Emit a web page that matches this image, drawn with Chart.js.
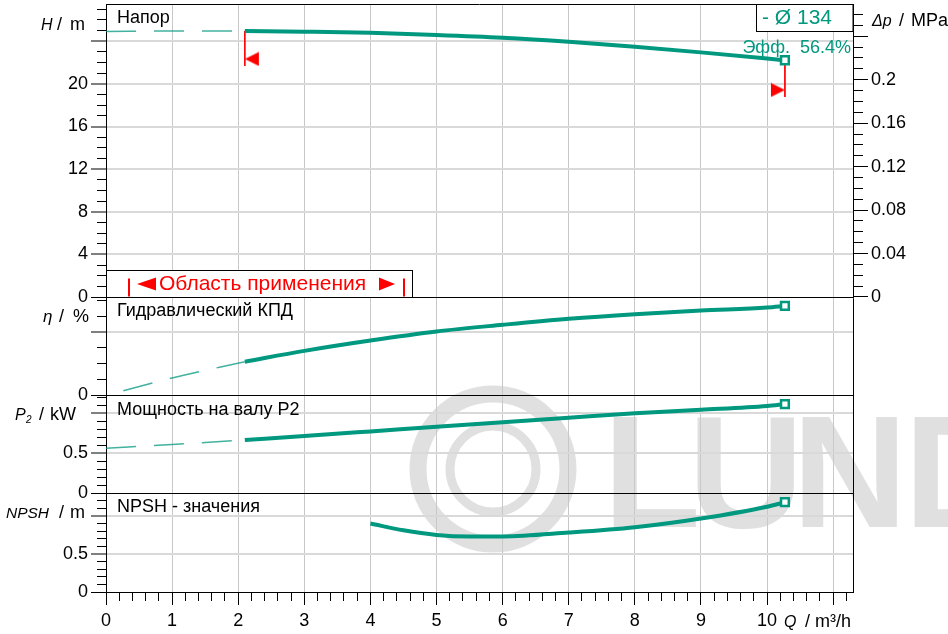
<!DOCTYPE html>
<html>
<head>
<meta charset="utf-8">
<script src="https://cdn.jsdelivr.net/npm/chart.js@4.4.1/dist/chart.umd.min.js"></script>
<style>
  html, body { margin: 0; padding: 0; background: #fff; }
  canvas { display: block; }
</style>
</head>
<body>
<canvas id="pump" width="948" height="634"></canvas>
<script>
// flow, m3/h
const flowMax = 11.3;
const flowLabels = [0, 1, 2, 3, 4, 5, 6, 7, 8, 9, 10];

// head, m (dashed part is outside the working range)
const headMax = 27.5;
const headDashQ = [0, 1, 2.1];
const headDash = [24.93, 24.97, 24.97];
const headQ = [2.1, 3, 4, 5, 6, 7, 8, 9, 10, 10.27];
const head = [24.97, 24.9, 24.79, 24.59, 24.33, 23.95, 23.48, 22.96, 22.39, 22.22];
const headMajor = [0, 4, 8, 12, 16, 20, 24];
const headLabels = [0, 4, 8, 12, 16, 20];

// pressure axis, MPa
const dpMajor = [0, 0.04, 0.08, 0.12, 0.16, 0.2, 0.24];
const dpLabels = [0, 0.04, 0.08, 0.12, 0.16, 0.2];

// hydraulic efficiency, %
const effMax = 62;
const effDashQ = [0, 1, 2.1];
const effDash = [0, 11, 21.3];
const effQ = [2.1, 3, 4, 5, 6, 7, 8, 9, 10, 10.27];
const eff = [21.3, 28.1, 34.6, 40.3, 44.5, 48.3, 51.2, 53.5, 55.4, 56.4];
const effMajor = [0, 40];
const effLabels = [0];

// shaft power P2, kW
const powMax = 1.219;
const powDashQ = [0, 1, 2.1];
const powDash = [0.56, 0.607, 0.663];
const powQ = [2.1, 3, 4, 5, 6, 7, 8, 9, 10, 10.27];
const pow = [0.663, 0.712, 0.77, 0.829, 0.884, 0.941, 0.996, 1.04, 1.088, 1.11];
const powMajor = [0, 0.5, 1];
const powLabels = [0, 0.5];

// NPSH, m
const npshMax = 1.3;
const npshQ = [4, 4.5, 5, 5.5, 6, 7, 8, 9, 10, 10.27];
const npsh = [0.9, 0.81, 0.75, 0.73, 0.73, 0.78, 0.85, 0.965, 1.12, 1.18];
const npshMajor = [0, 0.5, 1];
const npshLabels = [0, 0.5];

// limits of the working range on the head curve
const limitQ = [2.1, 10.27];
const limitTop = [24.97, 22.22];
const limitBottom = [21.68, 18.77];
const limitMark = [22.34, 19.43];
const appRangeQ = [0.35, 4.51];

const curveName = '- Ø 134';
const effText = 'Эфф.  56.4%';

const FONT = '"Liberation Sans", Arial, sans-serif';
const TEAL = '#00987f';
const TEAL_DASH = 'rgba(0,152,127,0.75)';
const CLEAR = 'rgba(0,0,0,0)';
const MPA_PER_M = 0.00980665;
const panelPx = [293, 98.5, 97.5, 99];

Chart.defaults.font.family = FONT;
Chart.defaults.font.size = 18;
Chart.defaults.color = '#000';

const pts = (xs, ys) => xs.map((x, i) => ({ x, y: ys[i] }));
const has = (arr, v) => arr.some(a => Math.abs(a - v) < 1e-6);
function steps(max, step) {
  const out = [];
  for (let i = 0; i * step < max - 1e-6; i++) out.push(+(i * step).toFixed(4));
  return out;
}

function leftAxis(max, step, major, labels, weight, order) {
  return {
    type: 'linear', position: 'left', stack: 'panels', stackWeight: weight, weight: order,
    min: 0, max: max,
    afterBuildTicks: s => { s.ticks = steps(max, step).map(v => ({ value: v })); },
    afterFit: s => { s.width = 106; s.paddingTop = 0; s.paddingBottom = 0; },
    border: { color: '#000', width: 1 },
    grid: {
      color: c => c.tick.value === 0 ? '#000' : has(major, c.tick.value) ? '#d9d9d9' : CLEAR,
      lineWidth: c => (c.tick.value !== 0 && has(major, c.tick.value)) ? 2 : 1,
      tickColor: '#000', tickWidth: 1, tickLength: 15,
      tickBorderDash: c => has(major, c.tick.value) ? [] : [9, 60],
      tickBorderDashOffset: c => has(major, c.tick.value) ? 0 : 63
    },
    ticks: { autoSkip: false, padding: 3, callback: v => has(labels, v) ? String(v) : '' }
  };
}

const dpMax = headMax * MPA_PER_M;
const dpMin = -dpMax * (panelPx[1] + panelPx[2] + panelPx[3]) / panelPx[0];

function curve(data, axis, dashed, extra) {
  const base = dashed
    ? { borderColor: TEAL_DASH, borderWidth: 1.5, borderDash: [30, 18], pointRadius: 0 }
    : {
        borderColor: TEAL, borderWidth: 4, pointStyle: 'rect',
        pointRadius: c => c.dataIndex === c.dataset.data.length - 1 ? 5.5 : 0,
        pointBorderWidth: 2.5, pointBorderColor: TEAL, pointBackgroundColor: '#fff'
      };
  return Object.assign({ data, yAxisID: axis, fill: false, cubicInterpolationMode: 'monotone' }, base, extra || {});
}

function triangle(dir) {
  const c = document.createElement('canvas');
  c.width = 30; c.height = 15;
  const g = c.getContext('2d');
  g.fillStyle = '#ff0000';
  g.beginPath();
  if (dir < 0) { g.moveTo(15, 7.5); g.lineTo(29, 0.5); g.lineTo(29, 14.5); }
  else { g.moveTo(15, 7.5); g.lineTo(1, 0.5); g.lineTo(1, 14.5); }
  g.closePath(); g.fill();
  return c;
}

const F = (size, style) => (style ? style + ' ' : '') + size + 'px ' + FONT;
function txt(g, s, x, y, font, color, align) {
  g.font = font; g.fillStyle = color || '#000';
  g.textAlign = align || 'left'; g.textBaseline = 'alphabetic';
  g.fillText(s, x, y);
}

const watermark = {
  id: 'watermark',
  beforeDraw(chart) {
    const g = chart.ctx;
    g.save();
    g.strokeStyle = '#e0e0e0'; g.fillStyle = '#e0e0e0';
    g.lineWidth = 17; g.beginPath(); g.arc(493, 469, 75, 0, Math.PI * 2); g.stroke();
    g.lineWidth = 9; g.beginPath(); g.arc(493, 469, 43, 0, Math.PI * 2); g.stroke();
    g.font = F(160, 'bold');
    [['L', 603], ['U', 688], ['N', 792], ['D', 904]].forEach(([t, x]) => g.fillText(t, x, 527));
    g.restore();
  }
};

const decor = {
  id: 'decor',
  beforeDatasetsDraw(chart) {
    const g = chart.ctx, a = chart.chartArea;
    g.save();
    g.strokeStyle = '#000'; g.lineWidth = 1;
    g.beginPath(); g.moveTo(a.left, a.top + 0.5); g.lineTo(a.right, a.top + 0.5); g.stroke();
    g.restore();
  },
  afterDatasetsDraw(chart) {
    const g = chart.ctx, a = chart.chartArea, sx = chart.scales.x, sH = chart.scales.yH;
    g.save();

    // working range box
    const x1 = Math.round(a.left) + 0.5, x2 = Math.round(sx.getPixelForValue(4.63)) + 0.5;
    const y1 = Math.round(sH.getPixelForValue(2.53)) + 0.5, y2 = Math.round(sH.getPixelForValue(0)) + 0.5;
    g.fillStyle = '#fff'; g.fillRect(x1, y1, x2 - x1, y2 - y1);
    g.strokeStyle = '#000'; g.lineWidth = 1; g.strokeRect(x1, y1, x2 - x1, y2 - y1);
    const bars = appRangeQ.map(q => Math.round(sx.getPixelForValue(q)));
    g.fillStyle = '#ff0000';
    bars.forEach(b => g.fillRect(b - 1, y1 + 8, 2, y2 - y1 - 9));
    const cy = y1 + 13.5;
    g.beginPath(); g.moveTo(bars[0] + 8, cy); g.lineTo(bars[0] + 27, cy - 6.5); g.lineTo(bars[0] + 27, cy + 6.5); g.closePath(); g.fill();
    g.beginPath(); g.moveTo(bars[1] - 9, cy); g.lineTo(bars[1] - 25, cy - 6.5); g.lineTo(bars[1] - 25, cy + 6.5); g.closePath(); g.fill();
    txt(g, 'Область применения', bars[0] + 30, y2 - 8, F(21), '#ff0000');

    // curve legend
    const lx = 756.5, ly = Math.round(a.top) + 0.5;
    g.fillStyle = '#fff'; g.fillRect(lx, ly, a.right - lx, 27);
    g.strokeStyle = '#000'; g.strokeRect(lx, ly, a.right - lx, 27);
    txt(g, curveName, 762, 24, F(21), TEAL);
    txt(g, effText, a.right - 2, 53, F(18), TEAL, 'right');

    // panel captions
    const cap = [['yH', 'Напор'], ['yEff', 'Гидравлический КПД'], ['yPow', 'Мощность на валу P2'], ['yNpsh', 'NPSH - значения']];
    cap.forEach(([id, s]) => txt(g, s, 117, chart.scales[id].top + 19, F(18)));

    // axis titles
    txt(g, 'H', 41, 30, F(16, 'italic')); txt(g, '/', 57, 30, F(18)); txt(g, 'm', 70, 30, F(18));
    txt(g, 'η', 43, 322, F(17, 'italic')); txt(g, '/', 59, 322, F(18)); txt(g, '%', 73, 322, F(18));
    txt(g, 'P', 15, 420, F(16, 'italic')); txt(g, '2', 26, 423, F(10, 'italic')); txt(g, '/', 39, 420, F(18)); txt(g, 'kW', 50, 420, F(18));
    txt(g, 'NPSH', 6, 518, F(15.5, 'italic')); txt(g, '/', 59, 518, F(18)); txt(g, 'm', 70, 518, F(18));
    txt(g, 'Δp', 872, 26, F(16, 'italic')); txt(g, '/', 899, 26, F(18)); txt(g, 'MPa', 911, 26, F(18));
    txt(g, 'Q', 784, 627, F(16, 'italic')); txt(g, '/', 805, 627, F(18)); txt(g, 'm³/h', 815, 627, F(18));
    g.restore();
  }
};

new Chart(document.getElementById('pump'), {
  type: 'line',
  data: {
    datasets: [
      curve(pts(headQ, head), 'yH', false),
      curve(pts(effQ, eff), 'yEff', false),
      curve(pts(powQ, pow), 'yPow', false),
      curve(pts(npshQ, npsh), 'yNpsh', false),
      curve(pts(headDashQ, headDash), 'yH', true),
      curve(pts(effDashQ, effDash), 'yEff', true, { borderDashOffset: 30 }),
      curve(pts(powDashQ, powDash), 'yPow', true),
      { data: pts([limitQ[0], limitQ[0]], [limitTop[0], limitBottom[0]]), yAxisID: 'yH', borderColor: '#ff0000', borderWidth: 1, pointRadius: 0 },
      { data: pts([limitQ[1], limitQ[1]], [limitTop[1], limitBottom[1]]), yAxisID: 'yH', borderColor: '#ff0000', borderWidth: 1, pointRadius: 0 },
      { data: pts(limitQ, limitMark), yAxisID: 'yH', showLine: false, pointRadius: 7,
        pointStyle: [triangle(-1), triangle(1)] }
    ]
  },
  options: {
    responsive: false,
    animation: false,
    events: [],
    layout: { padding: { top: 4, left: 0, right: 0, bottom: 0 }, autoPadding: false },
    plugins: { legend: { display: false }, tooltip: { enabled: false } },
    scales: {
      x: {
        type: 'linear', position: 'bottom', min: 0, max: flowMax,
        afterBuildTicks: s => { s.ticks = steps(flowMax + 0.1, 0.2).map(v => ({ value: v })); },
        afterFit: s => { s.height = 42; s.paddingLeft = 0; s.paddingRight = 0; },
        border: { color: '#000', width: 1 },
        grid: {
          color: c => (c.tick.value > 0 && Number.isInteger(+c.tick.value.toFixed(4))) ? '#c8c8c8' : CLEAR,
          lineWidth: 1, tickColor: '#000', tickWidth: 1, tickLength: 13,
          tickBorderDash: c => Number.isInteger(+c.tick.value.toFixed(4)) ? [] : [8, 60]
        },
        ticks: {
          autoSkip: false, maxRotation: 0, minRotation: 0, padding: 5,
          callback: v => has(flowLabels, v) ? String(Math.round(v)) : ''
        }
      },
      yNpsh: leftAxis(npshMax, 0.1, npshMajor, npshLabels, panelPx[3], 1),
      yPow: leftAxis(powMax, 0.1, powMajor, powLabels, panelPx[2], 2),
      yEff: leftAxis(effMax, 10, effMajor, effLabels, panelPx[1], 3),
      yH: leftAxis(headMax, 1, headMajor, headLabels, panelPx[0], 4),
      dp: {
        type: 'linear', position: 'right', min: dpMin, max: dpMax,
        afterBuildTicks: s => { s.ticks = steps(dpMax, 0.01).map(v => ({ value: v })); },
        afterFit: s => { s.width = 95; s.paddingTop = 0; s.paddingBottom = 0; },
        border: { color: '#000', width: 1 },
        grid: {
          drawOnChartArea: false, tickColor: '#000', tickWidth: 1, tickLength: 15,
          tickBorderDash: c => has(dpMajor, c.tick.value) ? [] : [9, 60]
        },
        ticks: { autoSkip: false, padding: 3, callback: v => has(dpLabels, v) ? String(v) : '' }
      }
    }
  },
  plugins: [watermark, decor]
});
</script>
</body>
</html>
